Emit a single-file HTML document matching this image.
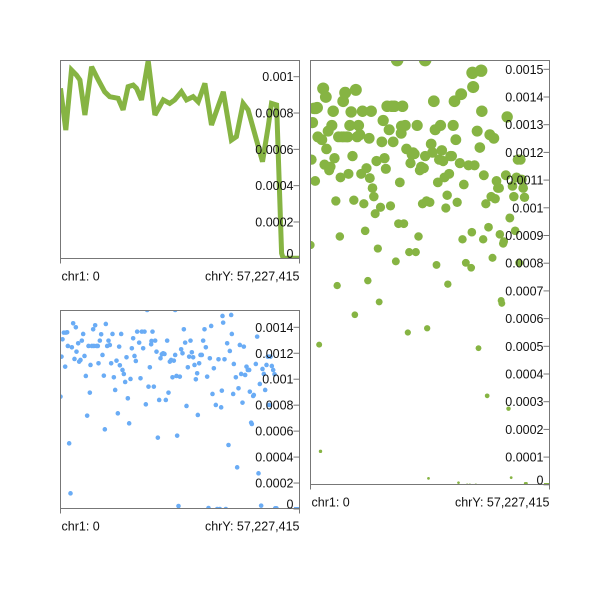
<!DOCTYPE html>
<html><head><meta charset="utf-8"><style>
html,body{margin:0;padding:0;background:#fff;}
svg{display:block;font-family:"Liberation Sans",Arial,sans-serif;}
</style></head><body>
<svg id="chart" width="610" height="600" viewBox="0 0 610 600" xmlns="http://www.w3.org/2000/svg"></svg>
<script>
// Line series (top-left): genome position (% of genome) and value
const linePos = [0,2.2,4.6,6.7,8.1,10.2,13.0,15.8,18.5,20.6,24.1,26.2,28.3,30.4,31.8,33.9,36.7,39.5,43.0,45.7,47.8,50.6,52.7,55.5,57.6,60.4,63.2,68.1,71.5,73.6,76.4,78.5,82.0,84.5,86.9,88.3,90.4,92.5,93.2,100];
const lineVals = [0.000936,0.000706,0.001037,0.001009,0.000982,0.000789,0.001055,0.000982,0.000917,0.00089,0.000881,0.000817,0.000945,0.000954,0.000936,0.000872,0.001088,0.000789,0.000872,0.000853,0.000872,0.000917,0.000872,0.00089,0.000862,0.000963,0.000734,0.000917,0.000651,0.00067,0.000853,0.000817,0.000651,0.000532,0.000725,0.000853,0.000844,0.0000275,0,0];
// Scatter series: bin index (of 717 bins) and read counts (normalised by total)
const scatterBins = [0,3,6,10,16,14,20,22,26,30,34,38,42,46,48,53,56,60,64,68,72,76,80,84,88,90,94,98,100,104,108,112,114,118,122,126,130,133,136,140,144,148,152,156,160,164,168,172,176,178,182,186,190,194,198,202,206,210,214,218,222,226,230,236,240,244,248,252,256,260,264,268,272,273,276,280,284,288,292,296,300,304,308,312,316,320,324,328,332,336,340,344,344,348,350,354,358,362,366,370,374,378,382,386,390,394,398,402,406,410,412,416,420,424,428,432,436,440,444,448,452,456,460,466,470,474,478,482,484,486,488,492,496,500,504,508,512,514,518,520,526,530,534,538,542,546,550,554,558,562,566,568,572,574,578,580,586,590,594,598,602,606,610,614,618,622,626,630,634,638,642,644,648,652,656,660,664,666,698];
const scatterCounts = [337,457,509,529,529,427,530,489,197,47,485,557,450,545,472,497,442,447,505,525,459,399,280,489,349,432,489,539,489,551,489,489,437,505,524,462,400,239,555,489,505,492,437,525,395,357,445,287,487,431,525,417,405,381,455,332,257,390,482,512,459,444,532,499,392,532,482,532,314,597,367,425,494,504,532,367,505,472,214,327,452,464,467,465,327,505,349,442,447,395,445,462,597,399,220,9,397,479,467,539,499,309,425,457,505,470,455,432,389,407,282,437,462,462,505,539,485,397,3,452,549,345,422,312,0,449,0,305,355,579,559,449,0,497,192,474,582,525,345,435,395,125,362,492,405,319,487,402,427,417,417,352,259,255,339,342,435,517,107,375,10,420,405,357,432,457,312,457,429,417,404,2,2];
const totalReads = 389286;

const svgNS = "http://www.w3.org/2000/svg";
const svg = document.getElementById('chart');
const GREEN = "#86b443", BLUE = "#6aacf5", AX = "#777";

function mk(tag, attrs, parent){
  const e = document.createElementNS(svgNS, tag);
  for (const k in attrs) e.setAttribute(k, attrs[k]);
  (parent||svg).appendChild(e);
  return e;
}

function panel(name, L, T, R, B, y0px, pxPerUnit, ticks, tickFmt, zeroShift){
  const g = mk('g', {});
  
  
  const clipId = name + '-clip';
  const cp = mk('clipPath', {id: clipId}, g);
  mk('rect', {x: L, y: T, width: R - L, height: B - T}, cp);
  const plot = mk('g', {'clip-path': 'url(#' + clipId + ')'}, g);
  
  
  const fr = mk('path', {d: `M${L},${B} L${L},${T} L${R},${T} L${R},${B} Z`, fill: 'none', stroke: AX, 'stroke-width': 1}, g);
  
  
  // x ticks
  [L, R].forEach(x => {
    const t = mk('line', {x1: x, y1: B, x2: x, y2: B + 5, stroke: AX, 'stroke-width': 1}, g);
    
    
  });
  const xl = mk('text', {x: L + 1, y: B + 22, 'font-size': 12.5, fill: '#111'}, g);
  xl.textContent = 'chr1: 0';
  
  
  const xr = mk('text', {x: R, y: B + 22, 'font-size': 12.5, fill: '#111', 'text-anchor': 'end'}, g);
  xr.textContent = 'chrY: 57,227,415';
  
  
  ticks.forEach(v => {
    const y = y0px - v * pxPerUnit;
    const t = mk('line', {x1: R - 6, y1: y, x2: R, y2: y, stroke: AX, 'stroke-width': 1}, g);
    
    
    const tx = mk('text', {x: R - 6, y: y + 4.5 - (v === 0 ? zeroShift : 0), 'font-size': 12.5, fill: '#111', 'text-anchor': 'end'}, g);
    tx.textContent = tickFmt(v);
    
    
  });
  return {plot, x: f => L + f * (R - L), y: v => y0px - v * pxPerUnit};
}

// Top-left line panel
const p1 = panel('line-panel', 60.5, 60.5, 299.5, 258.5, 258.3, 181600, [0,0.0002,0.0004,0.0006,0.0008,0.001], v => String(+v.toFixed(4)), 5);
const pts = linePos.map((p, i) => p1.x(p / 100).toFixed(1) + ',' + p1.y(lineVals[i]).toFixed(1)).join(' ');
const pl = mk('polyline', {points: pts, fill: 'none', stroke: GREEN, 'stroke-width': 5, 'stroke-linejoin': 'miter', 'stroke-miterlimit': 3}, p1.plot);



// Bottom-left blue scatter
const p2 = panel('blue-scatter-panel', 60.5, 310.5, 299.5, 508.5, 509, 129786, [0,0.0002,0.0004,0.0006,0.0008,0.001,0.0012,0.0014], v => String(+v.toFixed(4)), 5);
scatterBins.forEach((b, i) => {
  const v = scatterCounts[i] / totalReads;
  const c = mk('circle', {cx: p2.x(b / 717), cy: p2.y(v), r: 2.3, fill: BLUE}, p2.plot);
  
  
});
const bz = mk('line', {x1: 294, y1: 508, x2: 300, y2: 508, stroke: BLUE, 'stroke-width': 2}, p2.plot);



// Right bubble scatter
const rt = []; for (let k = 0; k <= 15; k++) rt.push(k / 10000);
const p3 = panel('bubble-panel', 310.5, 60.5, 549.5, 484.5, 484.8, 277000, rt, v => String(+v.toFixed(4)), 5);
scatterBins.forEach((b, i) => {
  const v = scatterCounts[i] / totalReads;
  const c = mk('circle', {cx: p3.x(b / 717), cy: p3.y(v), r: 1.3 + v * 3300, fill: GREEN}, p3.plot);
  
  
});
const gz = mk('line', {x1: 544, y1: 484, x2: 550, y2: 484, stroke: GREEN, 'stroke-width': 2}, p3.plot);


</script>
</body></html>
